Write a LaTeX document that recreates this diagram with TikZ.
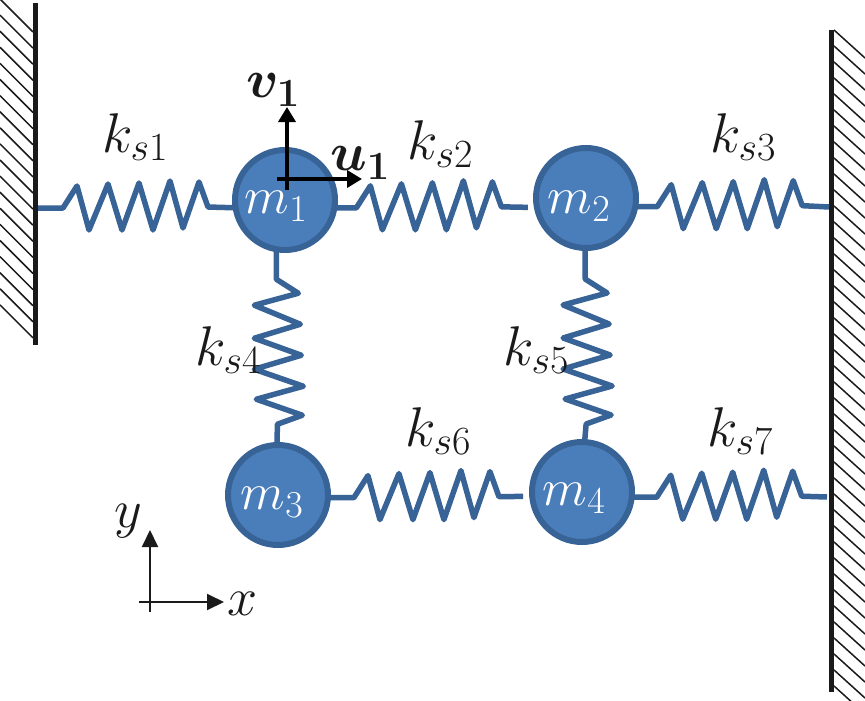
\RequirePackage{fix-cm}
\documentclass[tikz,border=0pt]{standalone}
\usepackage{amsmath,bm}
\usetikzlibrary{arrows.meta}
\DeclareMathSizes{56}{56}{40}{26}
\DeclareMathSizes{52}{52}{38}{26}
\DeclareMathSizes{54}{54}{40}{26}
\definecolor{massfill}{HTML}{4A7EBB}
\definecolor{massline}{HTML}{386397}
\definecolor{ink}{HTML}{1A1A1A}
\tikzset{
  mass/.style={circle,draw=massline,fill=massfill,line width=6pt,minimum size=100pt,inner sep=0pt,outer sep=0pt},
  springline/.style={draw=massline,line width=5.5pt,line join=round},
  wallline/.style={draw=ink,line width=4.5pt},
  hatchline/.style={draw=ink,line width=1.5pt},
  axis/.style={draw=ink,line width=2pt,-{Triangle[length=17pt,width=16pt]}},
  dofarrow/.style={draw=black,line width=3.6pt,-{Triangle[length=15pt,width=17pt]}},
  lab/.style={inner sep=0pt,text=ink,font=\fontsize{56}{60}\selectfont},
  boldlab/.style={inner sep=0pt,text=ink,font=\fontsize{54}{58}\selectfont},
  axislab/.style={inner sep=0pt,text=ink,font=\fontsize{54}{58}\selectfont},
  masslab/.style={inner sep=0pt,text=white,font=\fontsize{52}{56}\selectfont},
}
% #1 options, #2 start, #3 lead length, #4 end
\newcommand{\zzspring}[4][]{%
  \draw[springline,#1] (#2) -- ++(#3,0) -- ++(14,-22) -- ++(12,44) -- ++(19,-46) -- ++(14,46)
    -- ++(17,-47) -- ++(14,47) -- ++(17,-49) -- ++(13,47) -- ++(16,-46) -- ++(9,25) -- (#4);}
\begin{document}
\begin{tikzpicture}[x=1pt,y=-1pt]
\useasboundingbox (0,0) rectangle (865,701);
% walls
\coordinate (wl1) at (35.5,3);
\coordinate (wl2) at (35.5,345);
\coordinate (wr1) at (831.5,30);
\coordinate (wr2) at (831.5,692);
\begin{scope}
\clip (0,0) rectangle (865,701);
\foreach \k in {0,...,19}{\draw[hatchline] (0,{-1+16.1*\k}) -- (33,{32+16.1*\k});}
\foreach \k in {0,...,41}{\draw[hatchline] (834,{30+16*\k}) -- (865,{58+16*\k});}
\end{scope}
\draw[wallline] (wl1) -- (wl2);
\draw[wallline] (wr1) -- (wr2);
% masses
\node[mass] (m1) at (285,200) {};
\node[mass] (m2) at (586,198) {};
\node[mass] (m3) at (278,495) {};
\node[mass] (m4) at (582,492) {};
% spring ends on walls
\coordinate (s1a) at (38,208);
\coordinate (s3b) at (829,207);
\coordinate (s7b) at (827,497);
% springs
\zzspring{s1a}{25}{m1.189}
\zzspring[shorten >=9pt]{m1.-9}{22}{m2.191}
\zzspring{m2.-10}{22}{s3b}
\zzspring[rotate=-90]{m1.-100}{30}{m3.91}
\zzspring[rotate=-90]{m2.-91}{31}{m4.87}
\zzspring[shorten >=9pt]{m3.-3}{26}{m4.185}
\zzspring{m4.-6}{25}{s7b}
% mass labels
\node[masslab] (t1) at (276,206) {$m_1$};
\node[masslab] (t2) at (579,206) {$m_2$};
\node[masslab] (t3) at (272,502) {$m_3$};
\node[masslab] (t4) at (574,498) {$m_4$};
% spring labels
\node[lab] (k1) at (135,137) {$k_{s1}$};
\node[lab] (k2) at (440,144) {$k_{s2}$};
\node[lab] (k3) at (743,137) {$k_{s3}$};
\node[lab] (k4) at (228,350) {$k_{s4}$};
\node[lab] (k5) at (536,350) {$k_{s5}$};
\node[lab] (k6) at (438,431) {$k_{s6}$};
\node[lab] (k7) at (740,431) {$k_{s7}$};
% displacement arrows
\coordinate (vs) at (287,190);
\coordinate (ve) at (287,107);
\coordinate (us) at (277,179);
\coordinate (ue) at (362,179);
\draw[dofarrow] (vs) -- (ve);
\draw[dofarrow] (us) -- (ue);
\node[boldlab] (vl) at (273,90) {$\bm{v}_{\bm{1}}$};
\node[boldlab] (ul) at (360,163) {$\bm{u}_{\bm{1}}$};
% axes
\coordinate (ay) at (150,612);
\coordinate (aye) at (150,530);
\coordinate (ax) at (139,602);
\coordinate (axe) at (224,602);
\draw[axis] (ay) -- (aye);
\draw[axis] (ax) -- (axe);
\node[axislab] (yl) at (128,521) {$y$};
\node[axislab] (xl) at (243,604) {$x$};
\end{tikzpicture}
\end{document}
